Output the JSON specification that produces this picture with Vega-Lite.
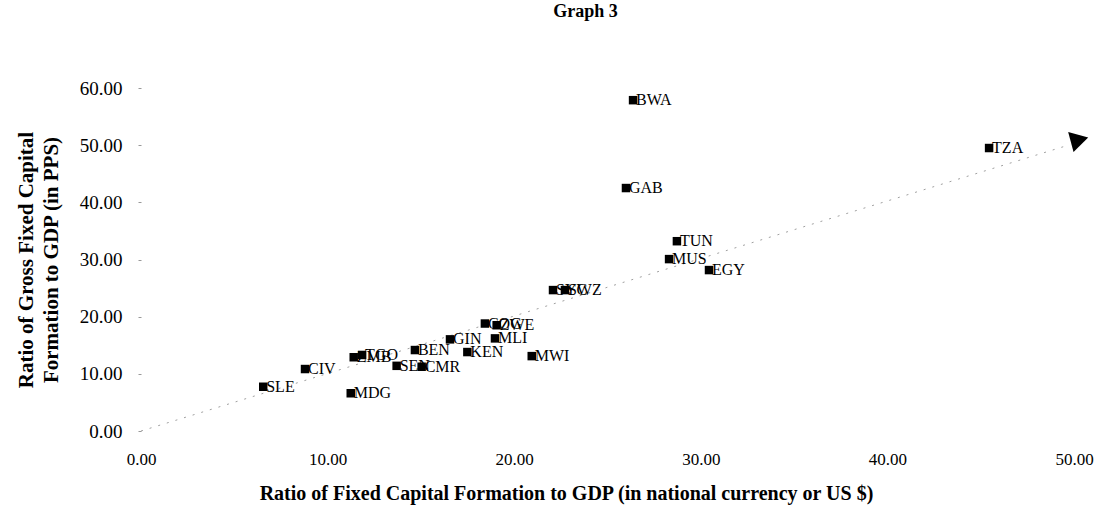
{
  "$schema": "https://vega.github.io/schema/vega-lite/v6.json",
  "width": 933,
  "height": 343,
  "autosize": {"type": "none"},
  "padding": {"left": 141, "top": 88, "right": 30, "bottom": 84},
  "background": "white",
  "config": {"view": {"stroke": null}, "font": "Liberation Serif"},
  "title": {"text": "Graph 3", "font": "Liberation Serif", "fontSize": 18, "fontWeight": "bold", "color": "black", "anchor": "middle", "dx": -22, "offset": 58},
  "layer": [
    {
      "data": {"values": [{"x": 0, "y": 0}, {"x": 49.6, "y": 49.9}]},
      "mark": {"type": "line", "color": "#a0a0a0", "strokeWidth": 1, "strokeDash": [2, 7]},
      "encoding": {
        "x": {"field": "x", "type": "quantitative", "scale": {"domain": [0, 50], "nice": false},
          "axis": {"title": "Ratio of Fixed Capital Formation to GDP (in national currency or US $)", "values": [0, 10, 20, 30, 40, 50], "format": ".2f", "grid": false, "domain": false, "ticks": false, "labelFont": "Liberation Serif", "labelFontSize": 17, "labelColor": "black", "labelPadding": 20, "titleFont": "Liberation Serif", "titleFontSize": 20, "titleFontWeight": "bold", "titleColor": "black", "titlePadding": 16, "titleX": 425, "labelFlush": false}},
        "y": {"field": "y", "type": "quantitative", "scale": {"domain": [0, 60], "nice": false},
          "axis": {"title": ["Ratio of Gross Fixed Capital", "Formation to GDP (in PPS)"], "values": [0, 10, 20, 30, 40, 50, 60], "format": ".2f", "grid": false, "domain": false, "ticks": true, "tickSize": 3, "tickColor": "#999", "labelFont": "Liberation Serif", "labelFontSize": 19, "labelColor": "black", "labelPadding": 16, "titleFont": "Liberation Serif", "titleFontSize": 21, "titleFontWeight": "bold", "titleColor": "black", "titlePadding": 18, "titleLineHeight": 25, "labelFlush": false}}
      }
    },
    {
      "data": {"values": [{"x": 50.1, "y": 50.3}]},
      "mark": {"type": "point", "shape": "triangle-down", "filled": true, "color": "black", "size": 430, "angle": 15, "opacity": 1},
      "encoding": {"x": {"field": "x", "type": "quantitative"}, "y": {"field": "y", "type": "quantitative"}}
    },
    {
      "data": {"name": "pts", "values": [
        {"country": "SLE", "x": 6.55, "y": 7.74},
        {"country": "CIV", "x": 8.79, "y": 10.84},
        {"country": "ZMB", "x": 11.4, "y": 12.9},
        {"country": "TGO", "x": 11.85, "y": 13.3},
        {"country": "MDG", "x": 11.24, "y": 6.6},
        {"country": "SEN", "x": 13.7, "y": 11.4},
        {"country": "CMR", "x": 15.04, "y": 11.24},
        {"country": "BEN", "x": 14.68, "y": 14.16},
        {"country": "GIN", "x": 16.56, "y": 16.03},
        {"country": "KEN", "x": 17.49, "y": 13.81},
        {"country": "MLI", "x": 18.97, "y": 16.2},
        {"country": "COG", "x": 18.43, "y": 18.8},
        {"country": "ZWE", "x": 19.06, "y": 18.5},
        {"country": "MWI", "x": 20.94, "y": 13.1},
        {"country": "SYC", "x": 22.08, "y": 24.65},
        {"country": "SWZ", "x": 22.72, "y": 24.65},
        {"country": "MUS", "x": 28.3, "y": 30.07},
        {"country": "TUN", "x": 28.72, "y": 33.2},
        {"country": "EGY", "x": 30.44, "y": 28.15},
        {"country": "GAB", "x": 25.99, "y": 42.5},
        {"country": "BWA", "x": 26.37, "y": 57.87},
        {"country": "TZA", "x": 45.45, "y": 49.5}
      ]},
      "layer": [
        {
          "mark": {"type": "square", "filled": true, "color": "black", "size": 72, "opacity": 1},
          "encoding": {"x": {"field": "x", "type": "quantitative"}, "y": {"field": "y", "type": "quantitative"}}
        },
        {
          "mark": {"type": "text", "align": "left", "baseline": "middle", "dx": 3, "font": "Liberation Serif", "fontSize": 16, "color": "black"},
          "encoding": {"x": {"field": "x", "type": "quantitative"}, "y": {"field": "y", "type": "quantitative"}, "text": {"field": "country"}}
        }
      ]
    }
  ]
}
